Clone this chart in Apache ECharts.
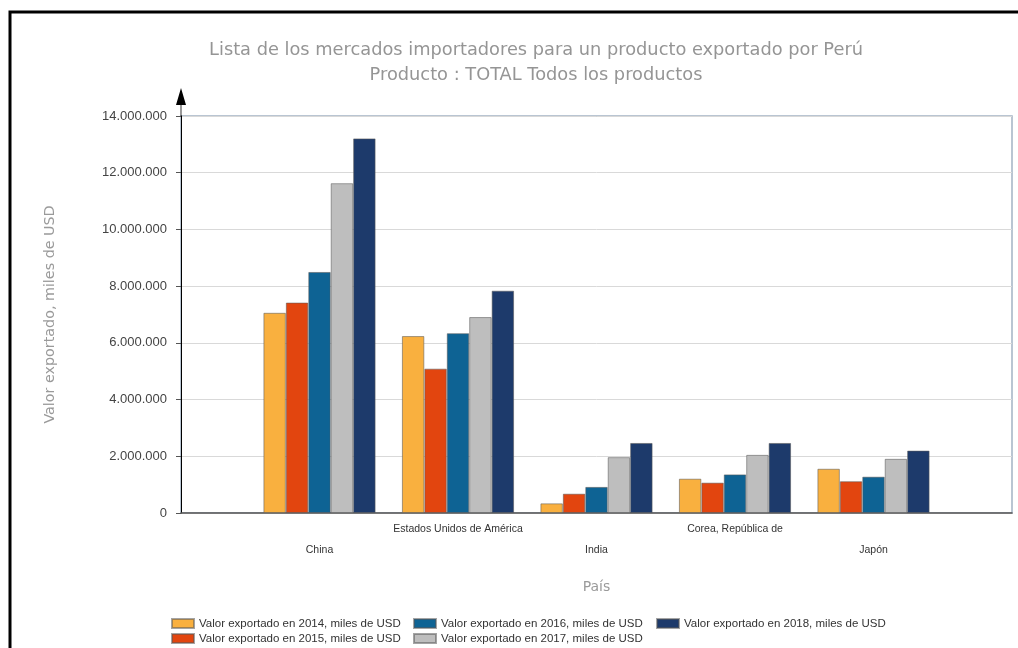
<!DOCTYPE html>
<html><head><meta charset="utf-8">
<script src="https://cdn.jsdelivr.net/npm/echarts@6/dist/echarts.min.js"></script>
<style>html,body{margin:0;padding:0;background:#fff}#c{width:1018px;height:648px}</style>
</head><body><div id="c"></div>
<script>
const categories = ['', 'China', 'Estados Unidos de América', 'India', 'Corea, República de', 'Japón', ''];
const seriesNames = [
  'Valor exportado en 2014, miles de USD',
  'Valor exportado en 2015, miles de USD',
  'Valor exportado en 2016, miles de USD',
  'Valor exportado en 2017, miles de USD',
  'Valor exportado en 2018, miles de USD'
];
const v2014 = [null, 7060000, 6240000, 340000, 1210000, 1560000, null];
const v2015 = [null, 7420000, 5090000, 680000, 1070000, 1120000, null];
const v2016 = [null, 8500000, 6340000, 920000, 1360000, 1280000, null];
const v2017 = [null, 11630000, 6910000, 1970000, 2050000, 1910000, null];
const v2018 = [null, 13210000, 7840000, 2470000, 2470000, 2200000, null];
const colors = ['#F9B03F', '#E2450F', '#0E6394', '#BEBEBE', '#1D3A6B'];
const yTicks = { min: 0, max: 14000000, interval: 2000000 };

const values = [v2014, v2015, v2016, v2017, v2018];
function fmt(v) { return String(v).replace(/\B(?=(\d{3})+(?!\d))/g, '.'); }

const chart = echarts.init(document.getElementById('c'), null, { renderer: 'canvas' });
const legendBase = {
  top: 617, orient: 'vertical', itemWidth: 22, itemHeight: 9, itemGap: 2,
  icon: 'rect', padding: 0,
  textStyle: { fontFamily: 'Liberation Sans', fontSize: 11.5, color: '#333', lineHeight: 13 }
};
chart.setOption({
  backgroundColor: '#fff',
  animation: false,
  title: {
    text: 'Lista de los mercados importadores para un producto exportado por Perú\nProducto : TOTAL Todos los productos',
    left: 531, top: 33, textAlign: 'center',
    textStyle: { fontFamily: 'DejaVu Sans', fontSize: 17.8, fontWeight: 'normal', color: '#959595', lineHeight: 25 }
  },
  legend: [
    Object.assign({}, legendBase, { left: 171, data: [seriesNames[0], seriesNames[1]] }),
    Object.assign({}, legendBase, { left: 413, data: [seriesNames[2], seriesNames[3]] }),
    Object.assign({}, legendBase, { left: 656, data: [seriesNames[4]] })
  ],
  grid: { left: 181, right: 6, top: 116, bottom: 135, show: true, borderColor: '#A3B3C4', borderWidth: 1.5 },
  xAxis: {
    type: 'category', data: categories, boundaryGap: false,
    name: 'País', nameLocation: 'middle', nameGap: 67,
    nameTextStyle: { fontFamily: 'DejaVu Sans', fontSize: 14, color: '#9a9a9a' },
    axisLine: { lineStyle: { color: '#555', width: 1.5 } },
    axisTick: { show: false },
    axisLabel: {
      interval: 0, margin: 6, fontFamily: 'Liberation Sans', fontSize: 10.5, color: '#333', lineHeight: 21,
      formatter: function (v, i) { return (i % 2 === 1) ? '\n' + v : v; }
    },
    splitLine: { show: false }
  },
  yAxis: {
    type: 'value', min: yTicks.min, max: yTicks.max, interval: yTicks.interval,
    name: 'Valor exportado, miles de USD', nameLocation: 'middle', nameGap: 124,
    nameTextStyle: { fontFamily: 'DejaVu Sans', fontSize: 14.3, color: '#9a9a9a' },
    axisLine: {
      show: true, lineStyle: { color: '#000', width: 1 },
      symbol: ['none', 'path://M5,0 L10,17 L0,17 Z M4.6,17 L5.4,17 L5.4,28 L4.6,28 Z'],
      symbolSize: [11, 28], symbolOffset: [0, 14]
    },
    axisTick: { show: true, length: 5, lineStyle: { color: '#555' } },
    axisLabel: { margin: 14, fontFamily: 'Liberation Sans', fontSize: 13, color: '#444', formatter: fmt },
    splitLine: { lineStyle: { color: '#D9D9D9', width: 1 } }
  },
  series: values.map(function (arr, k) {
    return {
      type: 'bar', name: seriesNames[k], data: arr,
      barCategoryGap: '19%', barGap: '0%',
      itemStyle: { color: colors[k], borderColor: 'rgba(90,90,90,0.55)', borderWidth: 1 }
    };
  }),
  graphic: [{
    type: 'rect', shape: { x: 10, y: 12, width: 1012, height: 660 },
    style: { fill: 'none', stroke: '#000', lineWidth: 3 }, silent: true, z: 100
  }]
});
</script></body></html>
